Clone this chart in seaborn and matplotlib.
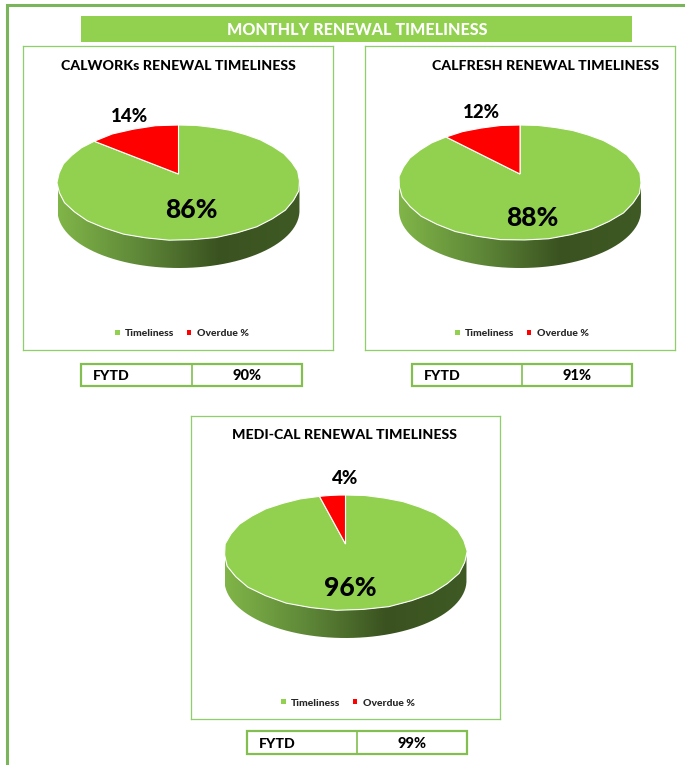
import numpy as np
import matplotlib
matplotlib.use("Agg")
import matplotlib.pyplot as plt
from matplotlib.patches import Polygon, Rectangle, PathPatch, Patch
from matplotlib.path import Path
import seaborn as sns

titles = ["CALWORKs RENEWAL TIMELINESS", "CALFRESH RENEWAL TIMELINESS", "MEDI-CAL RENEWAL TIMELINESS"]
timeliness = [86, 88, 96]
overdue = [14, 12, 4]
fytd = [90, 91, 99]
series_names = ["Timeliness", "Overdue %"]
banner = "MONTHLY RENEWAL TIMELINESS"

sns.set_theme(style="white")
plt.rcParams["font.family"] = ["Lato", "DejaVu Sans"]
GREEN = "#92d050"
RED = "#ff0000"
FRAME = "#7ab55c"
PANEL = "#8fcf6a"
BOX = "#82bf50"
WEIGHT = 900
side_cmap = sns.blend_palette(["#80b548", "#5f8838", "#3a5220", "#3f5a24"], as_cmap=True)

W, H = 685, 765
layouts = [
    dict(frame=(23, 46, 333, 350), c=(178.5, 182.5), tx=178, ty=66, small=(129, 116), big=(191, 210),
         leg=(182, 334), table=(81, 364, 192, 302, 386)),
    dict(frame=(365, 46, 675, 350), c=(520, 182.5), tx=546, ty=66, small=(481, 112), big=(532, 218),
         leg=(522, 334), table=(412, 364, 522, 632, 386)),
    dict(frame=(191, 416, 500, 719), c=(345.5, 552.5), tx=345, ty=435, small=(345, 479), big=(350, 588),
         leg=(348, 703), table=(247, 731, 357, 467, 754)),
]
RX, RY, LIFT, DEPTH = 121.0, 57.5, 8.5, 28.0

fig = plt.figure(figsize=(W / 100, H / 100), dpi=100, facecolor="white")
bg = fig.add_axes([0, 0, 1, 1])
bg.set_xlim(0, W)
bg.set_ylim(H, 0)
bg.axis("off")

bg.plot([7, 7, W], [H, 5, 5], color=FRAME, lw=2.2, solid_joinstyle="miter")
bg.add_patch(Rectangle((81, 16), 551, 26, fc=GREEN, ec="none"))
bg.text(357, 30, banner, color="white", fontsize=11.6, fontweight=WEIGHT, ha="center", va="center")


def project(pts):
    """Tilted-disc view: the pie's centre sits above the middle of its ellipse."""
    c = LIFT / RY
    x, y = pts[:, 0], pts[:, 1]
    den = 1 + c * y
    k = RX * np.sqrt(1 - c ** 2)
    return np.column_stack([k * x / den, (RY * y + LIFT) / den])


for i, lay in enumerate(layouts):
    l, t, r, b = lay["frame"]
    cx, cy = lay["c"]
    ax = fig.add_axes([l / W, 1 - b / H, (r - l) / W, (b - t) / H], zorder=2)
    wedges, _ = ax.pie([timeliness[i], overdue[i]], colors=[GREEN, RED], startangle=90, counterclock=False)

    faces = []
    for w in wedges:
        data = w.get_patch_transform().transform_path(w.get_path())
        poly = max(data.to_polygons(closed_only=True), key=len)
        colour = w.get_facecolor()
        w.remove()
        faces.append(Polygon(project(poly), closed=True, fc=colour, ec="white", lw=0.8, zorder=4))
    for f in faces:
        ax.add_patch(f)

    th = np.linspace(np.pi, 2 * np.pi, 120)
    lower = np.column_stack([RX * np.cos(th), RY * np.sin(th)])
    wall = np.vstack([lower, (lower - [0, DEPTH])[::-1]])
    grad = ax.imshow(np.linspace(0, 1, 256)[None, :], cmap=side_cmap, aspect="auto",
                     extent=(-RX, RX, -RY - DEPTH, 0), zorder=2)
    grad.set_clip_path(PathPatch(Path(np.vstack([wall, wall[:1]])), transform=ax.transData))

    ax.set_aspect("auto")
    ax.set_xlim(l - cx, r - cx)
    ax.set_ylim(cy - b, cy - t)
    ax.set_frame_on(True)
    for s in ax.spines.values():
        s.set_visible(True)
        s.set_color(PANEL)
        s.set_linewidth(0.9)
    ax.set_xticks([])
    ax.set_yticks([])

    ax.text(lay["tx"] - cx, cy - lay["ty"], titles[i], fontsize=10.2, fontweight=WEIGHT, color="black",
            ha="center", va="center")
    ax.text(lay["small"][0] - cx, cy - lay["small"][1], f"{overdue[i]}%", fontsize=13.5, fontweight=WEIGHT,
            color="black", ha="center", va="center", zorder=6)
    ax.text(lay["big"][0] - cx, cy - lay["big"][1], f"{timeliness[i]}%", fontsize=19, fontweight=WEIGHT,
            color="black", ha="center", va="center", zorder=6)

    handles = [Patch(fc=GREEN, ec="none"), Patch(fc=RED, ec="none")]
    ax.legend(handles, series_names, ncol=2, loc="center", frameon=False,
              bbox_to_anchor=(lay["leg"][0] - cx, cy - lay["leg"][1]),
              bbox_transform=ax.transData, handlelength=0.42, handleheight=0.42,
              handletextpad=0.5, columnspacing=1.2, prop=dict(size=7.5, weight=WEIGHT))

    x0, y0, xm, x1, y1 = lay["table"]
    bg.add_patch(Rectangle((x0, y0), x1 - x0, y1 - y0, fc="white", ec=BOX, lw=1.6))
    bg.plot([xm, xm], [y0, y1], color=BOX, lw=1.2)
    bg.text(x0 + 12, (y0 + y1) / 2 + 1, "FYTD", fontsize=10.2, fontweight=WEIGHT, color="black", ha="left", va="center")
    bg.text((xm + x1) / 2, (y0 + y1) / 2 + 1, f"{fytd[i]}%", fontsize=10.5, fontweight=WEIGHT, color="black",
            ha="center", va="center")

fig.savefig("out.png", dpi=100, facecolor="white")
